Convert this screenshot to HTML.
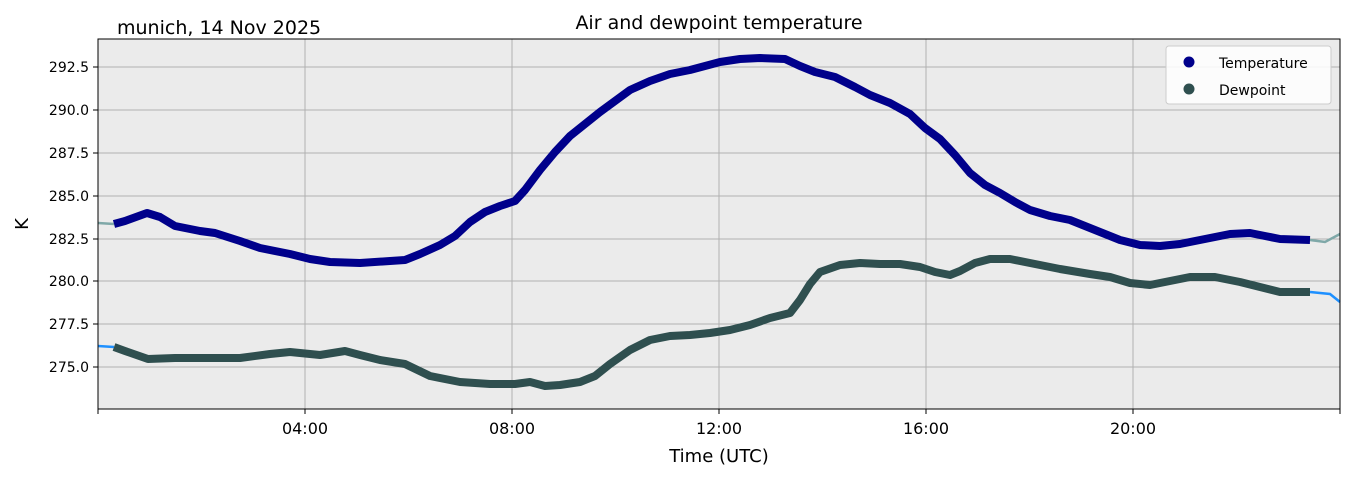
<!DOCTYPE html>
<html><head><style>body{margin:0;background:#fff;}svg{display:block;font-family:"DejaVu Sans","Liberation Sans",sans-serif;}</style></head>
<body>
<svg width="1351" height="478" viewBox="0 0 1351 478">
<rect x="98" y="39" width="1242" height="370" fill="#ebebeb"/>
<g stroke="#b0b0b0" stroke-width="1">
<line x1="98" x2="1340" y1="67" y2="67"/><line x1="98" x2="1340" y1="110" y2="110"/><line x1="98" x2="1340" y1="153" y2="153"/><line x1="98" x2="1340" y1="196" y2="196"/><line x1="98" x2="1340" y1="239" y2="239"/><line x1="98" x2="1340" y1="281" y2="281"/><line x1="98" x2="1340" y1="324" y2="324"/><line x1="98" x2="1340" y1="367" y2="367"/>
<line y1="39" y2="409" x1="305" x2="305"/><line y1="39" y2="409" x1="512" x2="512"/><line y1="39" y2="409" x1="719" x2="719"/><line y1="39" y2="409" x1="926" x2="926"/><line y1="39" y2="409" x1="1133" x2="1133"/>
</g>
<polyline fill="none" stroke="#7fa8a8" stroke-width="2.5" points="98,223 114,224"/>
<polyline fill="none" stroke="#7fa8a8" stroke-width="2.5" points="1310,240 1325,242 1340,234"/>
<polyline fill="none" stroke="#1e90ff" stroke-width="2.5" points="98,346 114,347"/>
<polyline fill="none" stroke="#1e90ff" stroke-width="2.5" points="1310,292 1330,294 1340,302"/>
<polyline fill="none" stroke="#00008b" stroke-width="8" stroke-linejoin="round" points="114,224 125,221 147,213 160,217 175,226 200,231 215,233 240,241 260,248 290,254 310,259 330,262 360,263 390,261 405,260 420,254 440,245 455,236 470,222 485,212 500,206 515,201 525,190 540,170 555,152 570,136 585,124 600,112 615,101 630,90 650,81 670,74 690,70 705,66 720,62 740,59 760,58 785,59 800,66 815,72 835,77 855,87 870,95 890,103 910,114 925,128 940,139 955,155 970,173 985,185 1000,193 1015,202 1030,210 1050,216 1070,220 1085,226 1100,232 1120,240 1140,245 1160,246 1180,244 1200,240 1215,237 1230,234 1250,233 1265,236 1280,239 1310,240"/>
<polyline fill="none" stroke="#2f4f4f" stroke-width="8" stroke-linejoin="round" points="114,347 125,351 148,359 175,358 200,358 240,358 270,354 290,352 320,355 345,351 360,355 380,360 405,364 430,376 460,382 490,384 515,384 530,382 545,386 560,385 580,382 595,376 610,364 630,350 650,340 670,336 690,335 710,333 730,330 750,325 770,318 790,313 800,300 810,284 820,272 840,265 860,263 880,264 900,264 920,267 935,272 950,275 960,271 975,263 990,259 1010,259 1030,263 1060,269 1090,274 1110,277 1130,283 1150,285 1170,281 1190,277 1215,277 1240,282 1260,287 1280,292 1300,292 1310,292"/>
<rect x="98" y="39" width="1242" height="370" fill="none" stroke="#000" stroke-width="1"/>
<g stroke="#000" stroke-width="1">
<line x1="93" x2="98" y1="67" y2="67"/><line x1="93" x2="98" y1="110" y2="110"/><line x1="93" x2="98" y1="153" y2="153"/><line x1="93" x2="98" y1="196" y2="196"/><line x1="93" x2="98" y1="239" y2="239"/><line x1="93" x2="98" y1="281" y2="281"/><line x1="93" x2="98" y1="324" y2="324"/><line x1="93" x2="98" y1="367" y2="367"/>
<line y1="409" y2="414" x1="98" x2="98"/><line y1="409" y2="414" x1="305" x2="305"/><line y1="409" y2="414" x1="512" x2="512"/><line y1="409" y2="414" x1="719" x2="719"/><line y1="409" y2="414" x1="926" x2="926"/><line y1="409" y2="414" x1="1133" x2="1133"/><line y1="409" y2="414" x1="1340" x2="1340"/>
</g>
<g font-size="14" text-anchor="end" fill="#000">
<text x="89" y="72">292.5</text><text x="89" y="115">290.0</text><text x="89" y="158">287.5</text><text x="89" y="201">285.0</text><text x="89" y="244">282.5</text><text x="89" y="286">280.0</text><text x="89" y="329">277.5</text><text x="89" y="372">275.0</text>
</g>
<g font-size="16" text-anchor="middle">
<text x="305" y="434">04:00</text><text x="512" y="434">08:00</text><text x="719" y="434">12:00</text><text x="926" y="434">16:00</text><text x="1133" y="434">20:00</text>
<text x="719" y="462" font-size="18">Time (UTC)</text>
<text x="719" y="29" font-size="19">Air and dewpoint temperature</text>
</g>
<text x="117" y="34" font-size="19">munich, 14 Nov 2025</text>
<text transform="translate(28,224) rotate(-90)" font-size="18" text-anchor="middle">K</text>
<rect x="1166" y="46" width="165" height="58" rx="3" fill="#fff" fill-opacity="0.85" stroke="#ccc"/>
<circle cx="1189" cy="62" r="5.5" fill="#00008b"/><circle cx="1189" cy="89" r="5.5" fill="#2f4f4f"/>
<text x="1219" y="68" font-size="14">Temperature</text><text x="1219" y="95" font-size="14">Dewpoint</text>
</svg>
</body></html>
